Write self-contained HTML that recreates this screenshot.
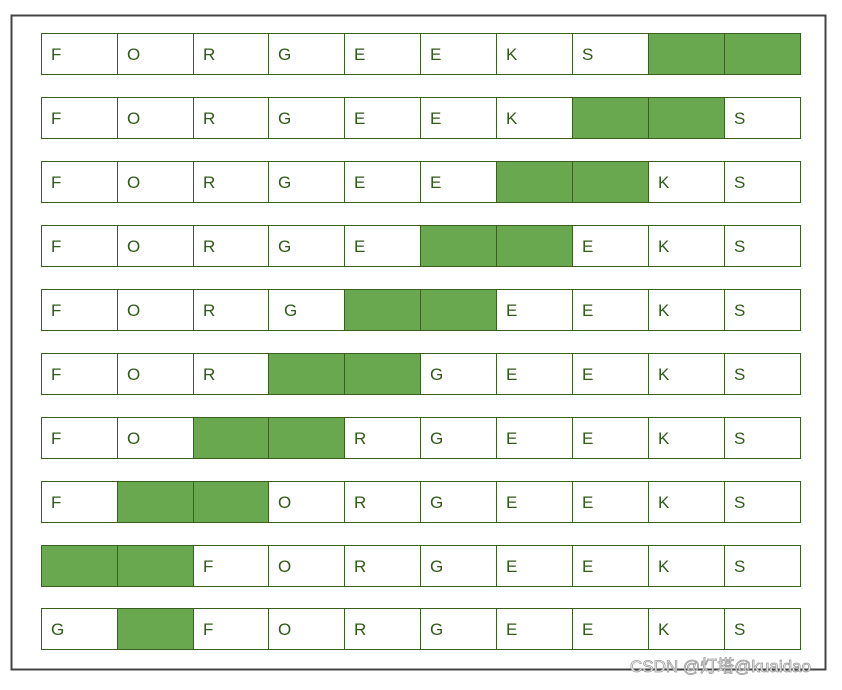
<!DOCTYPE html>
<html><head><meta charset="utf-8"><style>
body{margin:0;background:#fff;width:842px;height:685px;overflow:hidden;font-family:"Liberation Sans","Noto Sans CJK SC",sans-serif}
</style></head><body>
<svg width="842" height="685">
<rect x="11.5" y="15.5" width="814" height="654" fill="#fff" stroke="#444" stroke-width="2"/>
<g id="rows"></g>
<text x="630" y="672" font-size="17" fill="#fff" stroke="#999" stroke-width="0.8">CSDN @灯塔@kuaidao</text>
</svg>
<script>
const rowLetters=[
"FORGEEKS##","FORGEEK##S","FORGEE##KS","FORGE##EKS","FORG##EEKS",
"FOR##GEEKS","FO##RGEEKS","F##ORGEEKS","##FORGEEKS","G#FORGEEKS"];
const rowTops=[33,97,161,225,289,353,417,481,545,608];
const colX=[41,117,193,268,344,420,496,572,648,724,800];
const g=document.getElementById('rows');
const NS='http://www.w3.org/2000/svg';
rowLetters.forEach((s,r)=>{
  const y=rowTops[r];
  for(let c=0;c<10;c++){
    const ch=s[c];
    const rect=document.createElementNS(NS,'rect');
    rect.setAttribute('x',colX[c]+0.5);rect.setAttribute('y',y+0.5);
    rect.setAttribute('width',colX[c+1]-colX[c]);rect.setAttribute('height',41);
    rect.setAttribute('fill',ch==='#'?'#6aa84f':'#fff');
    rect.setAttribute('stroke','#38601f');rect.setAttribute('stroke-width','1');
    
    
    g.appendChild(rect);
    if(ch!=='#'){
      const t=document.createElementNS(NS,'text');
      t.setAttribute('x',colX[c]+10+(r===4&&c===3?6:0));t.setAttribute('y',y+27);
      t.setAttribute('font-size','17');t.setAttribute('fill','#2f5a17');
      t.textContent=ch;
      
      
      g.appendChild(t);
    }
  }
});
</script>
</body></html>
